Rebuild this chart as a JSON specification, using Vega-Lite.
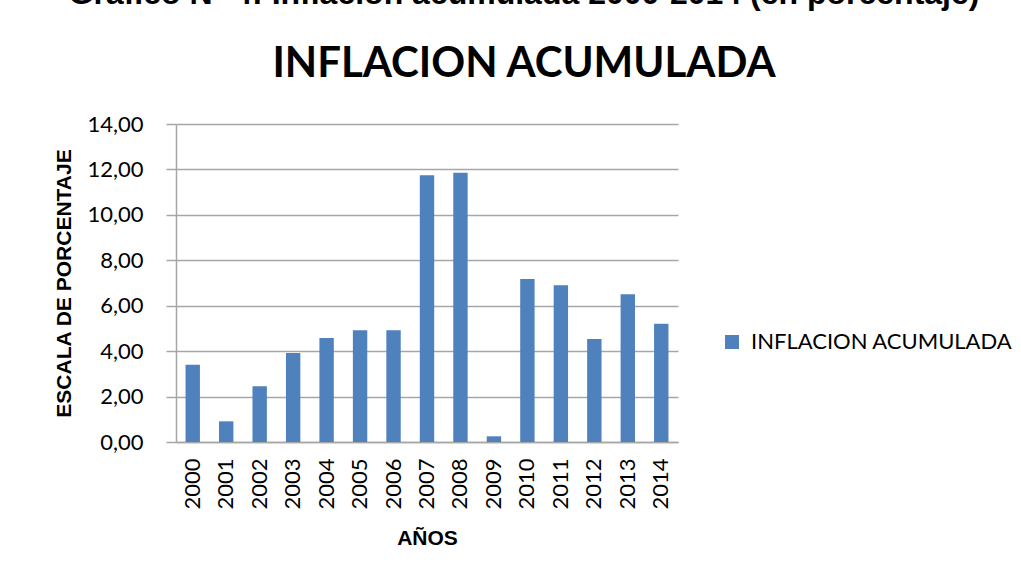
{
  "$schema": "https://vega.github.io/schema/vega-lite/v6.json",
  "width": 502,
  "height": 318,
  "autosize": {"type": "none"},
  "padding": {"left": 176, "top": 124, "right": 343, "bottom": 138},
  "background": "white",
  "title": {
    "text": "Gráfico N° 4: Inflación acumulada 2000-2014 (en porcentaje)",
    "subtitle": "INFLACION ACUMULADA",
    "anchor": "middle",
    "dx": 97,
    "offset": 27,
    "font": "Liberation Sans",
    "fontSize": 32,
    "fontWeight": "bold",
    "color": "black",
    "subtitleFont": "Lato",
    "subtitleFontSize": 42,
    "subtitleFontWeight": "bold",
    "subtitleColor": "black",
    "subtitlePadding": 33
  },
  "config": {
    "locale": {"number": {"decimal": ",", "thousands": ".", "grouping": [3], "currency": ["$", ""]}},
    "view": {"stroke": null},
    "axis": {
      "labelFont": "Lato",
      "labelFontSize": 22,
      "labelColor": "black",
      "titleFont": "Liberation Sans",
      "titleFontSize": 21,
      "titleFontWeight": "bold",
      "titleColor": "black",
      "domainColor": "#A6A6A6",
      "domainWidth": 1.5,
      "tickColor": "#A6A6A6",
      "tickWidth": 1.5,
      "gridColor": "#A6A6A6",
      "gridWidth": 1.5
    },
    "legend": {"padding": 0}
  },
  "data": {
    "values": [
      {"anio": "2000", "valor": 3.40, "serie": "INFLACION ACUMULADA"},
      {"anio": "2001", "valor": 0.91, "serie": "INFLACION ACUMULADA"},
      {"anio": "2002", "valor": 2.45, "serie": "INFLACION ACUMULADA"},
      {"anio": "2003", "valor": 3.92, "serie": "INFLACION ACUMULADA"},
      {"anio": "2004", "valor": 4.58, "serie": "INFLACION ACUMULADA"},
      {"anio": "2005", "valor": 4.92, "serie": "INFLACION ACUMULADA"},
      {"anio": "2006", "valor": 4.92, "serie": "INFLACION ACUMULADA"},
      {"anio": "2007", "valor": 11.74, "serie": "INFLACION ACUMULADA"},
      {"anio": "2008", "valor": 11.85, "serie": "INFLACION ACUMULADA"},
      {"anio": "2009", "valor": 0.25, "serie": "INFLACION ACUMULADA"},
      {"anio": "2010", "valor": 7.18, "serie": "INFLACION ACUMULADA"},
      {"anio": "2011", "valor": 6.90, "serie": "INFLACION ACUMULADA"},
      {"anio": "2012", "valor": 4.54, "serie": "INFLACION ACUMULADA"},
      {"anio": "2013", "valor": 6.50, "serie": "INFLACION ACUMULADA"},
      {"anio": "2014", "valor": 5.21, "serie": "INFLACION ACUMULADA"}
    ]
  },
  "mark": {"type": "bar"},
  "encoding": {
    "x": {
      "field": "anio",
      "type": "ordinal",
      "title": "AÑOS",
      "scale": {"paddingInner": 0.57, "paddingOuter": 0.285},
      "axis": {"labelAngle": -90, "ticks": false, "labelPadding": 16, "titlePadding": 18, "grid": false}
    },
    "y": {
      "field": "valor",
      "type": "quantitative",
      "title": "ESCALA DE PORCENTAJE",
      "scale": {"domain": [0, 14]},
      "axis": {"values": [0, 2, 4, 6, 8, 10, 12, 14], "format": ".2f", "tickSize": 10, "labelPadding": 23, "titlePadding": 12, "grid": true}
    },
    "color": {
      "field": "serie",
      "type": "nominal",
      "scale": {"range": ["#4F81BD"]},
      "legend": {
        "title": null,
        "orient": "none",
        "legendX": 545,
        "legendY": 207,
        "symbolType": "square",
        "symbolSize": 196,
        "symbolStrokeWidth": 0,
        "symbolOpacity": 1,
        "labelFont": "Lato",
        "labelFontSize": 22,
        "labelColor": "black",
        "labelOffset": 8,
        "labelLimit": 0
      }
    }
  }
}
